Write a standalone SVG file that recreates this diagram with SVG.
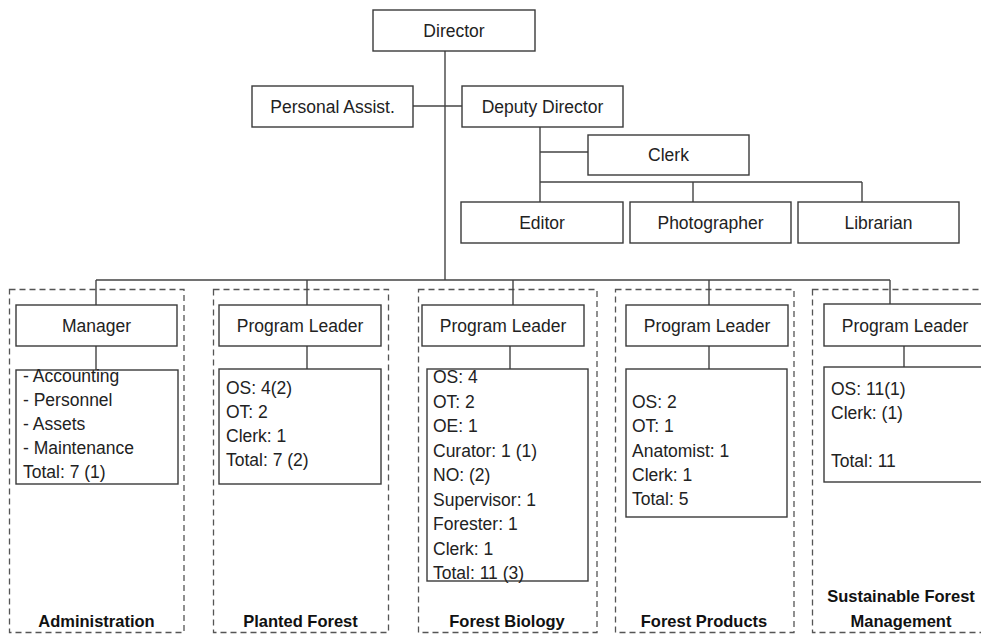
<svg xmlns="http://www.w3.org/2000/svg" width="981" height="634" viewBox="0 0 981 634">
<style>
.box{fill:#fff;stroke:#3a3a3a;stroke-width:1.4}
.grp{fill:none;stroke:#555;stroke-width:1.3;stroke-dasharray:6 4}
.ln{fill:none;stroke:#444;stroke-width:1.4}
.t{font-family:"Liberation Sans",Arial,sans-serif;font-size:17.5px;fill:#222}
.c{text-anchor:middle}
.b{font-family:"Liberation Sans",Arial,sans-serif;font-size:16.5px;font-weight:bold;fill:#111;text-anchor:middle}
</style>
<rect width="981" height="634" fill="#fff"/>
<g id="groups">
<rect class="grp" x="9.5" y="289.5" width="174.5" height="343"/>
<rect class="grp" x="213.5" y="289.5" width="175" height="343"/>
<rect class="grp" x="418.5" y="289.5" width="178.5" height="343"/>
<rect class="grp" x="615.5" y="289.5" width="178.5" height="343"/>
<rect class="grp" x="812.5" y="289.5" width="185" height="343"/>
</g>
<g id="connectors">
<path class="ln" d="M445 51V280"/>
<path class="ln" d="M413 106H462"/>
<path class="ln" d="M540 127V202M540 152H588M540 182H862M693 182V202M862 182V202"/>
<path class="ln" d="M96 280H890M96 280V306M307 280V305M513 280V305M709 280V305M890 280V304"/>
<path class="ln" d="M96 346V370M307 346V369M510 346V369M709 346V369M904 346V367"/>
</g>
<g id="director"><rect class="box" x="373" y="10" width="162" height="41"/><text class="t c" x="454" y="37">Director</text></g>
<g id="personal-assist"><rect class="box" x="252" y="86" width="161" height="41"/><text class="t c" x="332.5" y="112.5">Personal Assist.</text></g>
<g id="deputy-director"><rect class="box" x="462" y="86" width="161" height="41"/><text class="t c" x="542.5" y="112.5">Deputy Director</text></g>
<g id="clerk"><rect class="box" x="588" y="135" width="161" height="40"/><text class="t c" x="668.5" y="161">Clerk</text></g>
<g id="editor"><rect class="box" x="461" y="202" width="162" height="41"/><text class="t c" x="542" y="228.5">Editor</text></g>
<g id="photographer"><rect class="box" x="630" y="202" width="161" height="41"/><text class="t c" x="710.5" y="228.5">Photographer</text></g>
<g id="librarian"><rect class="box" x="798" y="202" width="161" height="41"/><text class="t c" x="878.5" y="228.5">Librarian</text></g>

<g id="admin-manager"><rect class="box" x="16" y="305" width="161" height="41"/><text class="t c" x="96.5" y="331.5">Manager</text></g>
<g id="admin-detail"><rect class="box" x="16" y="370" width="162" height="114"/>
<text class="t" x="23" y="382">- Accounting</text>
<text class="t" x="23" y="406">- Personnel</text>
<text class="t" x="23" y="430">- Assets</text>
<text class="t" x="23" y="454">- Maintenance</text>
<text class="t" x="23" y="478">Total: 7 (1)</text>
</g>
<g id="admin-label"><text class="b" x="96.5" y="627">Administration</text></g>

<g id="planted-leader"><rect class="box" x="219" y="305" width="162" height="41"/><text class="t c" x="300" y="331.5">Program Leader</text></g>
<g id="planted-detail"><rect class="box" x="219" y="369" width="162" height="115"/>
<text class="t" x="226" y="394">OS: 4(2)</text>
<text class="t" x="226" y="418">OT: 2</text>
<text class="t" x="226" y="442">Clerk: 1</text>
<text class="t" x="226" y="466">Total: 7 (2)</text>
</g>
<g id="planted-label"><text class="b" x="300.5" y="627">Planted Forest</text></g>

<g id="biology-leader"><rect class="box" x="422" y="305" width="162" height="41"/><text class="t c" x="503" y="331.5">Program Leader</text></g>
<g id="biology-detail"><rect class="box" x="427" y="369" width="161" height="212"/>
<text class="t" x="433" y="383">OS: 4</text>
<text class="t" x="433" y="407.5">OT: 2</text>
<text class="t" x="433" y="432">OE: 1</text>
<text class="t" x="433" y="456.5">Curator: 1 (1)</text>
<text class="t" x="433" y="481">NO: (2)</text>
<text class="t" x="433" y="505.5">Supervisor: 1</text>
<text class="t" x="433" y="530">Forester: 1</text>
<text class="t" x="433" y="554.5">Clerk: 1</text>
<text class="t" x="433" y="579">Total: 11 (3)</text>
</g>
<g id="biology-label"><text class="b" x="507" y="627">Forest Biology</text></g>

<g id="products-leader"><rect class="box" x="626" y="305" width="162" height="41"/><text class="t c" x="707" y="331.5">Program Leader</text></g>
<g id="products-detail"><rect class="box" x="626" y="369" width="161" height="148"/>
<text class="t" x="632" y="408">OS: 2</text>
<text class="t" x="632" y="432">OT: 1</text>
<text class="t" x="632" y="456.5">Anatomist: 1</text>
<text class="t" x="632" y="481">Clerk: 1</text>
<text class="t" x="632" y="505">Total: 5</text>
</g>
<g id="products-label"><text class="b" x="704" y="627">Forest Products</text></g>

<g id="sfm-leader"><rect class="box" x="824" y="304" width="162" height="42"/><text class="t c" x="905" y="331.5">Program Leader</text></g>
<g id="sfm-detail"><rect class="box" x="824" y="367" width="162" height="115"/>
<text class="t" x="831" y="395">OS: 11(1)</text>
<text class="t" x="831" y="419">Clerk: (1)</text>
<text class="t" x="831" y="467">Total: 11</text>
</g>
<g id="sfm-label"><text class="b" x="901" y="602">Sustainable Forest</text><text class="b" x="901" y="627">Management</text></g>
</svg>
